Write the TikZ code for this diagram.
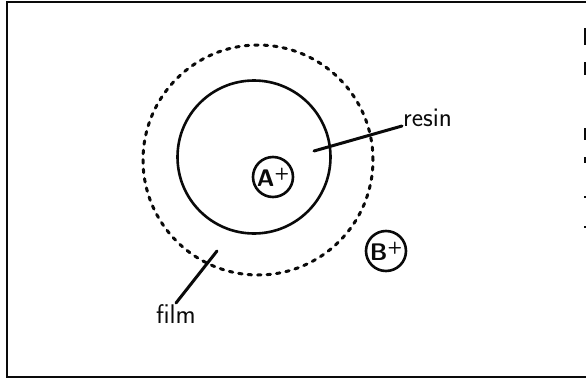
\documentclass[tikz,border=0pt]{standalone}
\usepackage{fontspec}
\usepackage{tikz}
\usetikzlibrary{positioning,calc}
\definecolor{sketchInk}{RGB}{10,10,10}

\begin{document}
\begin{tikzpicture}[x=1pt,y=-1pt]
\tikzset{
ion/.style={circle,draw=sketchInk,line width=2.6pt,minimum size=40pt,inner sep=0pt,
font=\sffamily\bfseries\fontsize{24}{26}\selectfont,text=sketchInk},
tag/.style={font=\sffamily\fontsize{27}{29}\selectfont,text=sketchInk,inner sep=1pt},
lead/.style={draw=sketchInk,line width=3pt,line cap=round}
}
\useasboundingbox (0,0) rectangle (586,388);
\draw[sketchInk,line width=2.8pt] (7,2) rectangle (592,377);
% scan marks at the cut right edge
\foreach \ya/\yb in {28/45,62/75,128/140,157/163,196/198,226/228}
  \fill[sketchInk] (584,\ya) rectangle (586,\yb);
% film and resin bead
\node[circle,draw=sketchInk,line width=3pt,dash pattern=on 3.5pt off 6pt,line cap=round,
  minimum size=230pt,inner sep=0pt] (film) at (258,160) {};
\node[circle,draw=sketchInk,line width=2.6pt,minimum size=153pt,inner sep=0pt] (resin) at (254,157) {};
\node[ion] (aion) at (273,177) {A\raisebox{.35em}{\fontsize{17}{17}\selectfont+}};
\node[ion] (bion) at (386,251) {B\raisebox{.35em}{\fontsize{17}{17}\selectfont+}};
% labels
\node[tag,anchor=west] (resinlbl) at (402,118) {resin};
\node[tag,anchor=north] (filmlbl) at (176,303) {film};
\coordinate (resinend) at (314,151);
\coordinate (filmend) at (217,251);
\draw[lead] (resinend) -- (resinlbl.west |- 0,126);
\draw[lead] (filmend) -- (filmlbl.north);
\end{tikzpicture}
\end{document}
